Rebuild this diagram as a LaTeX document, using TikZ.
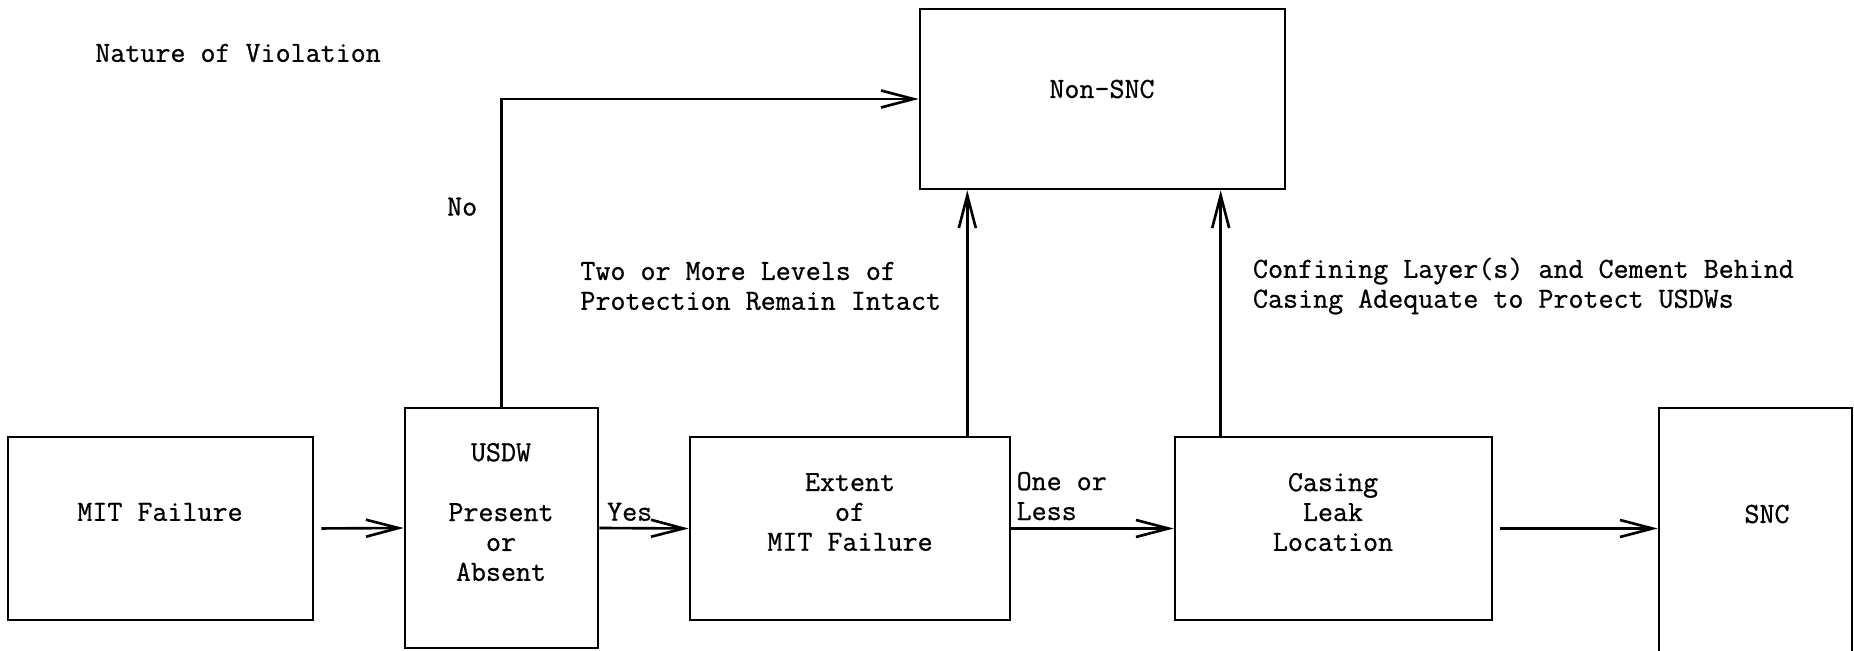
\documentclass[tikz,border=0pt]{standalone}
\usepackage{fontspec}
\usepackage{tikz}
\usetikzlibrary{arrows.meta,fit}

\newfontfamily\typefont{lmmono12-regular.otf}[FakeBold=0.8]

\tikzset{
  box/.style={draw, line width=1.5pt, inner sep=0pt},
  txt/.style={font=\fontsize{16.6}{17}\typefont, align=center, inner sep=0pt},
  lbl/.style={font=\fontsize{16.6}{17}\typefont, align=left, inner sep=0pt},
  flow/.style={line width=1.5pt, -{Straight Barb[length=6.5mm,width=3.4mm]}},
}

\begin{document}
\begin{tikzpicture}[x=0.2mm, y=-0.2mm]
	\useasboundingbox (0,0) rectangle (1854,651);

	\node[lbl, anchor=west] (title) at (95,53) {Nature of Violation};

	% boxes
	\node[box, fit={(920,9) (1285,189)}] (nonsnc) {};
	\node[box, fit={(8,437) (313,620)}] (mit) {};
	\node[box, fit={(405,408) (598,648)}] (usdw) {};
	\node[box, fit={(690,437) (1010,620)}] (ext) {};
	\node[box, fit={(1175,437) (1492,620)}] (cas) {};
	\node[box, fit={(1659,408) (1852,720)}] (snc) {};

	% texts in the boxes
	\node[txt] (nonsnc-t) at (1102,89) {Non-SNC};
	\node[txt] (mit-t) at (160,512) {MIT Failure};
	\node[txt] (usdw-t) at (501,512) {USDW\\[6mm]Present\\or\\Absent};
	\node[txt] (ext-t) at (850,512) {Extent\\of\\MIT Failure};
	\node[txt] (cas-t) at (1333,512) {Casing\\Leak\\Location};
	\node[txt] (snc-t) at (1767,514) {SNC};

	\coordinate (up1) at ([xshift=-8.8mm]ext.north east);
	\coordinate (up2) at ([xshift=9.4mm]cas.north west);

	% connectors
	\draw[flow, shorten <=1.4mm] (mit.east) -- (usdw.west);
	\draw[flow] (usdw.north) |- node[lbl, pos=0.325, left=4.6mm] (no) {No} (nonsnc.west);
	\draw[flow] (usdw.east) -- node[lbl, pos=0.34, above=1.2mm] (yes) {Yes} (ext.west);
	\draw[flow] (ext.east) -- node[lbl, pos=0, anchor=south west, xshift=0.8mm, yshift=1.4mm] (less) {One or\\Less} (cas.west);
	\draw[flow, shorten <=1.4mm] (cas.east) -- (snc.west |- cas.east);
	\draw[flow] (up1) -- node[lbl, pos=0.61, left=5mm] (intact) {Two or More Levels of\\Protection Remain Intact} (up1 |- nonsnc.south);
	\draw[flow] (up2) -- node[lbl, pos=0.61, right=6.2mm] (adequate) {Confining Layer(s) and Cement Behind\\Casing Adequate to Protect USDWs} (up2 |- nonsnc.south);
\end{tikzpicture}
\end{document}
